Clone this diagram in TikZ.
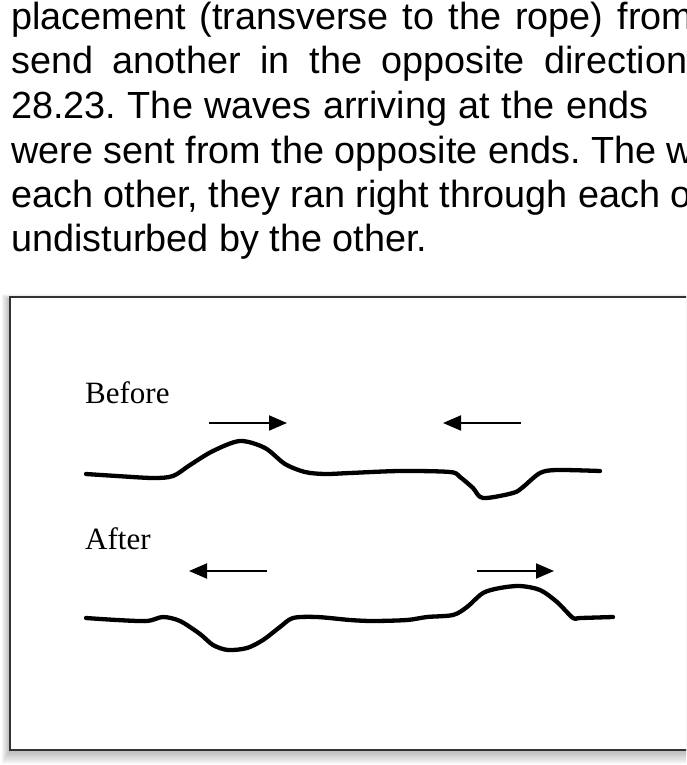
\documentclass[tikz,border=0pt]{standalone}
\usepackage{fontspec}
\setmainfont{Liberation Serif}
\newfontfamily\parafont{Liberation Sans}
\usetikzlibrary{arrows.meta}

\begin{document}
\begin{tikzpicture}[x=1pt, y=-1pt,
    para/.style={anchor=base west, inner sep=0pt, font=\parafont\fontsize{37.8}{45}\selectfont\frenchspacing},
    stagelabel/.style={anchor=base west, inner sep=0pt, font=\fontsize{31}{36}\selectfont},
    rope/.style={line width=4.3pt, line cap=round, line join=round},
    pulsearrow/.style={line width=2pt, -{Triangle[length=18pt, width=15pt]}}]
	\useasboundingbox (0,0) rectangle (686,765);
	\clip (0,0) rectangle (686,765);
	\fill[white] (0,0) rectangle (686,765);
	
	% text above the figure
	\node[para] (l1) at (11,30) {\makebox[682pt][s]{placement (transverse to the rope) from}};
	\node[para] (l2) at (11,74) {\makebox[676pt][s]{send another in the opposite direction}};
	\node[para] (l3) at (11,118) {\makebox[637pt][s]{28.23. The waves arriving at the ends}};
	\node[para] (l4) at (11,163) {were sent from the opposite ends. The w};
	\node[para] (l5) at (11,207) {each other, they ran right through each o};
	\node[para] (l6) at (11,251) {undisturbed by the other.};
	
	% frame with its shadow
	\foreach \s in {1,...,12}
		\fill[black, opacity=0.022] (10-0.7*\s, 300-0.5*\s) rectangle (700, 750+1.2*\s);
	\draw[fill=white, draw=black!80, line width=1.4pt] (10,297) rectangle (700,750);
	
	% before
	\node[stagelabel] (before) at (85,403) {Before};
	\coordinate (b1s) at (209,423);
	\coordinate (b1e) at (287,423);
	\coordinate (b2s) at (521,423);
	\coordinate (b2e) at (443,423);
	\draw[pulsearrow] (b1s) -- (b1e);
	\draw[pulsearrow] (b2s) -- (b2e);
	\draw[rope] plot[smooth, tension=0.5] coordinates {(86,474) (117,476) (153,478) (173,476)
		(190,465) (213,451) (240,441) (265,448) (285,464) (305,472) (325,474) (350,473)
		(400,471) (450,472) (460,477) (473,488) (483,498) (513,493) (523,487) (540,473)
		(557,470) (600,471)};
	
	% after
	\node[stagelabel] (after) at (85,549) {After};
	\coordinate (a1s) at (267,571);
	\coordinate (a1e) at (189,571);
	\coordinate (a2s) at (477,571);
	\coordinate (a2e) at (554,571);
	\draw[pulsearrow] (a1s) -- (a1e);
	\draw[pulsearrow] (a2s) -- (a2e);
	\draw[rope] plot[smooth, tension=0.5] coordinates {(86,618) (117,620) (147,621) (163,617)
		(180,621) (200,634) (213,645) (228,650) (247,648) (263,640) (280,627) (293,618)
		(317,617) (350,620) (373,621) (407,620) (427,617) (453,615) (467,607) (483,593)
		(500,588) (520,586) (540,590) (557,602) (573,618) (580,618) (613,617)};
\end{tikzpicture}
\end{document}
